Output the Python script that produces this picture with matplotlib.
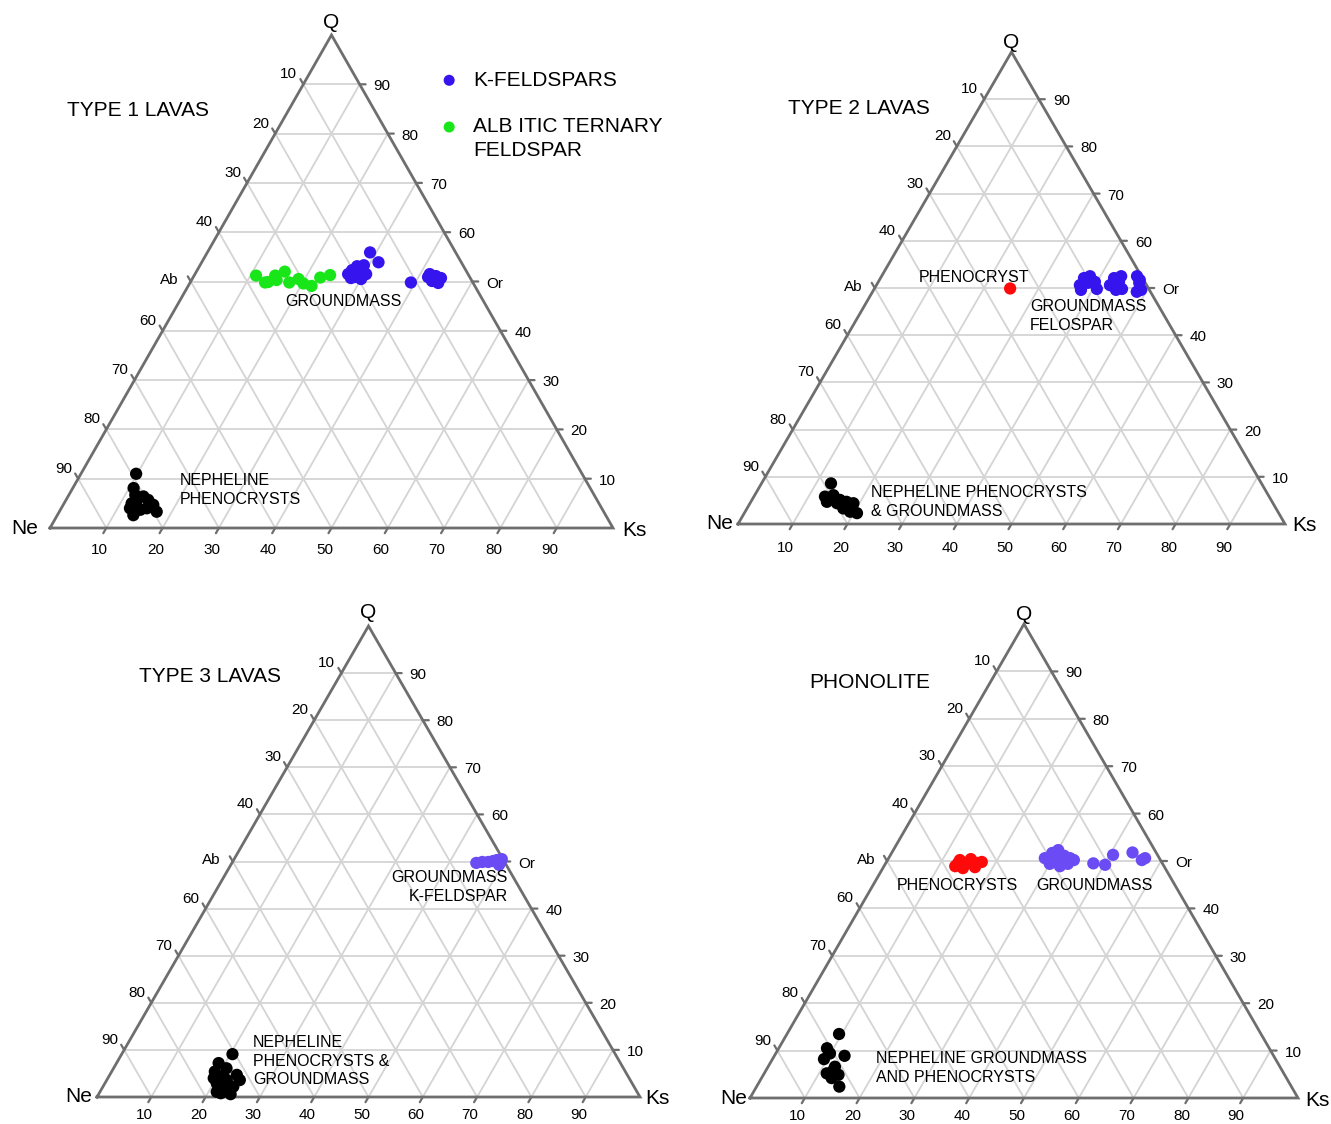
import numpy as np
import matplotlib
matplotlib.use("Agg")
import matplotlib.pyplot as plt

plt.rcParams['font.family'] = ['Liberation Sans', 'DejaVu Sans']

W, H = 1331, 1124
S3 = np.sqrt(3) / 2

# ---------------- data : Ks %, Q %  (Ne = 100 - Ks - Q) ----------------
# Type 1 lavas
t1_kfs_ks = [28.9, 31.4, 27.5, 28.0, 29.3, 30.4, 28.7, 30.0, 27.2, 29.1, 28.8, 28.1,
             39.2, 41.7, 43.0, 44.1, 42.8, 44.1, 41.7]
t1_kfs_q = [55.9, 53.9, 52.3, 53.1, 52.3, 51.5, 50.9, 50.5, 51.5, 53.3, 51.9, 50.7,
            49.8, 51.5, 51.1, 50.7, 50.1, 49.7, 50.9]
t1_alb_ks = [11.0, 13.3, 13.8, 14.4, 15.7, 15.1, 17.6, 18.9, 20.2, 21.9, 22.6, 24.1]
t1_alb_q = [51.2, 49.8, 49.9, 51.2, 52.0, 50.3, 49.8, 50.5, 49.6, 49.1, 50.8, 51.3]
t1_ne_ks = [9.8, 10.8, 11.8, 13.4, 14.6, 16.0, 17.3, 12.0, 13.5, 14.2, 15.2, 12.2, 12.7]
t1_ne_q = [11.0, 8.1, 6.7, 6.4, 5.7, 4.7, 3.3, 5.0, 2.6, 3.7, 4.0, 4.0, 5.3]

# Type 2 lavas
t2_phe_ks = [24.8]
t2_phe_q = [49.9]
t2_gm_ks = [37.2, 37.2, 38.1, 39.6, 40.7, 37.9, 38.4, 42.7, 42.7, 44.0, 45.3, 44.3,
            43.8, 46.7, 47.8, 48.9, 48.3, 47.6]
t2_gm_q = [50.6, 52.1, 52.5, 51.3, 49.8, 49.6, 51.1, 50.6, 52.1, 51.3, 49.8, 49.6,
           52.5, 52.5, 51.1, 49.6, 49.2, 51.7]
t2_ne_ks = [12.7, 13.0, 14.4, 16.1, 17.5, 19.0, 20.6, 13.9, 15.9, 17.6, 19.2, 18.9]
t2_ne_q = [8.6, 5.8, 6.1, 5.1, 4.7, 3.7, 2.3, 4.7, 4.4, 3.3, 2.6, 4.4]

# Type 3 lavas
t3_gm_ks = [45.0, 46.0, 47.1, 47.9, 48.5, 49.3, 49.3, 49.4]
t3_gm_q = [49.7, 49.9, 49.9, 50.1, 50.3, 49.9, 50.5, 49.3]
t3_ne_ks = [20.4, 18.8, 19.0, 20.8, 23.4, 24.5, 20.6, 22.5, 24.3, 22.4, 24.0, 22.1, 21.5,
            19.5, 21.0, 23.0]
t3_ne_q = [9.1, 7.2, 5.4, 6.1, 4.7, 3.6, 2.9, 1.5, 0.6, 0.8, 2.2, 3.6, 1.1,
           4.0, 4.5, 2.0]

# Phonolite
ph_phe_ks = [13.0, 13.2, 14.7, 15.1, 16.6, 17.4, 14.6, 16.7, 13.2]
ph_phe_q = [48.9, 50.2, 49.4, 50.4, 49.6, 49.8, 48.5, 48.7, 49.6]
ph_gm_ks = [28.5, 29.3, 30.1, 31.8, 33.1, 34.0, 30.0, 32.1, 33.3, 30.7,
            37.9, 40.2, 40.6, 43.9, 46.4, 46.8]
ph_gm_q = [50.6, 51.7, 52.3, 51.1, 50.6, 50.2, 49.4, 48.9, 49.4, 50.2,
           49.5, 49.2, 51.3, 51.8, 50.2, 50.6]
ph_ne_ks = [9.5, 8.8, 12.8, 9.4, 9.9, 11.4, 12.3, 13.7, 12.2, 15.1, 12.8]
ph_ne_q = [13.5, 10.5, 8.9, 8.2, 9.4, 5.2, 5.9, 4.9, 6.6, 2.4, 4.2]

# tick labels
bottom_labels = ['10', '20', '30', '40', '50', '60', '70', '80', '90']
left_labels = ['10', '20', '30', '40', 'Ab', '60', '70', '80', '90']     # Ne %
right_labels = ['90', '80', '70', '60', 'Or', '40', '30', '20', '10']    # Q %
levels = [0.1, 0.2, 0.3, 0.4, 0.5, 0.6, 0.7, 0.8, 0.9]

# ---------------- style ----------------
C_KFS = '#3614ee'
C_KFS2 = '#6b4cf4'
C_ALB = '#19e619'
C_RED = '#ff0a0a'
C_BLK = '#000000'
EDGE = '#6e6e6e'
GRID = '#d4d4d4'
MS = 78


def tern(ks, q):
    ks = np.asarray(ks, float) / 100.0
    q = np.asarray(q, float) / 100.0
    return ks + q / 2.0, q * S3


fig = plt.figure(figsize=(W / 100, H / 100), dpi=100)
fig.patch.set_facecolor('white')

# vertices in pixels: Ne(x,y), Ks x, Q y ; label offsets
panels = [
    dict(ne=(50, 528), ks_x=613, q_y=35, qoff=13, neoff=-25, ksoff=21, boff=-22),
    dict(ne=(738, 524), ks_x=1285, q_y=52, qoff=10, neoff=-18, ksoff=19, boff=-24),
    dict(ne=(97, 1097), ks_x=640, q_y=626, qoff=13, neoff=-18, ksoff=17, boff=-18),
    dict(ne=(750, 1098), ks_x=1298, q_y=624, qoff=10, neoff=-16, ksoff=19, boff=-18),
]


def make_ax(p):
    x0, y0 = p['ne']
    ax = fig.add_axes([x0 / W, 1 - y0 / H, (p['ks_x'] - x0) / W, (y0 - p['q_y']) / H])
    ax.set_xlim(0, 1)
    ax.set_ylim(0, S3)
    ax.axis('off')
    for v in levels:
        ax.plot([v / 2, 1 - v / 2], [v * S3, v * S3], color=GRID, lw=1.3, zorder=1)
        ax.plot([v, v + (1 - v) / 2], [0, (1 - v) * S3], color=GRID, lw=1.3, zorder=1)
        ax.plot([1 - v, (1 - v) / 2], [0, (1 - v) * S3], color=GRID, lw=1.3, zorder=1)
    ax.plot([0, 1, 0.5, 0], [0, 0, S3, 0], color=EDGE, lw=2.0, zorder=2,
            solid_joinstyle='miter', clip_on=False)
    tk = 6
    fs = 11
    arr = dict(arrowstyle='-', color=EDGE, lw=1.6, shrinkA=0, shrinkB=0)
    for v, lb, ll, rl in zip(levels, bottom_labels, left_labels, right_labels):
        ax.annotate('', xy=(v, 0), xytext=(-0.5 * tk, -S3 * tk), textcoords='offset pixels',
                    arrowprops=arr)
        ax.annotate(lb, xy=(v, 0), xytext=(-7, p['boff']), textcoords='offset pixels',
                    ha='center', va='center', fontsize=fs)
        pl = ((1 - v) / 2, (1 - v) * S3)
        ax.annotate('', xy=pl, xytext=(-0.5 * tk, S3 * tk), textcoords='offset pixels',
                    arrowprops=arr)
        if ll == 'Ab':
            ax.annotate(ll, xy=pl, xytext=(-12, 1), textcoords='offset pixels',
                        ha='right', va='center', fontsize=fs)
        else:
            ax.annotate(ll, xy=pl, xytext=(-6, 10), textcoords='offset pixels',
                        ha='right', va='center', fontsize=fs)
        pr = (1 - (1 - v) / 2, (1 - v) * S3)
        ax.annotate('', xy=pr, xytext=(tk, 0), textcoords='offset pixels', arrowprops=arr)
        ax.annotate(rl, xy=pr, xytext=(14, -2), textcoords='offset pixels',
                    ha='left', va='center', fontsize=fs)
    ax.annotate('Q', xy=(0.5, S3), xytext=(0, p['qoff']), textcoords='offset pixels',
                ha='center', va='center', fontsize=15)
    ax.annotate('Ne', xy=(0, 0), xytext=(p['neoff'], 0), textcoords='offset pixels',
                ha='center', va='center', fontsize=15)
    ax.annotate('Ks', xy=(1, 0), xytext=(p['ksoff'], -2), textcoords='offset pixels',
                ha='center', va='center', fontsize=15)
    return ax


def sc(ax, ks, q, color, label=None):
    x, y = tern(ks, q)
    return ax.scatter(x, y, s=MS, color=color, edgecolors='none', zorder=5,
                      clip_on=False, label=label)


axs = [make_ax(p) for p in panels]

h_k = sc(axs[0], t1_kfs_ks, t1_kfs_q, C_KFS, 'K-FELDSPARS')
h_a = sc(axs[0], t1_alb_ks, t1_alb_q, C_ALB, 'ALB ITIC TERNARY')
sc(axs[0], t1_ne_ks, t1_ne_q, C_BLK)
sc(axs[1], t2_gm_ks, t2_gm_q, C_KFS)
sc(axs[1], t2_phe_ks, t2_phe_q, C_RED)
sc(axs[1], t2_ne_ks, t2_ne_q, C_BLK)
sc(axs[2], t3_gm_ks, t3_gm_q, C_KFS2)
sc(axs[2], t3_ne_ks, t3_ne_q, C_BLK)
sc(axs[3], ph_phe_ks, ph_phe_q, C_RED)
sc(axs[3], ph_gm_ks, ph_gm_q, C_KFS2)
sc(axs[3], ph_ne_ks, ph_ne_q, C_BLK)

fig.legend(handles=[h_k, h_a], loc='upper left', bbox_to_anchor=(420 / W, 1 - 52 / H),
           bbox_transform=fig.transFigure, frameon=False, fontsize=15, handlelength=1.0,
           handletextpad=0.65, labelspacing=1.33, scatterpoints=1, borderpad=0.4,
           markerscale=0.9)


def ft(x, y, s, ha='left', size=11.5):
    fig.text(x / W, 1 - y / H, s, ha=ha, va='center', fontsize=size, linespacing=1.3)


ft(473, 151, 'FELDSPAR', size=15)
ft(67, 110, 'TYPE 1 LAVAS', size=15)
ft(343, 302, 'GROUNDMASS', ha='center')
ft(180, 490, 'NEPHELINE\nPHENOCRYSTS')

ft(788, 109, 'TYPE 2 LAVAS', size=15)
ft(919, 277, 'PHENOCRYST')
ft(1030, 316, 'GROUNDMASS\nFELOSPAR')
ft(871, 502, 'NEPHELINE PHENOCRYSTS\n& GROUNDMASS')

ft(139, 676, 'TYPE 3 LAVAS', size=15)
ft(508, 887, 'GROUNDMASS\nK-FELDSPAR', ha='right')
ft(253, 1061, 'NEPHELINE\nPHENOCRYSTS &\nGROUNDMASS')

ft(809, 683, 'PHONOLITE', size=15)
ft(957, 886, 'PHENOCRYSTS', ha='center')
ft(1094, 885, 'GROUNDMASS', ha='center')
ft(876, 1068, 'NEPHELINE GROUNDMASS\nAND PHENOCRYSTS')

fig.savefig('out.png', dpi=100, facecolor='white')
